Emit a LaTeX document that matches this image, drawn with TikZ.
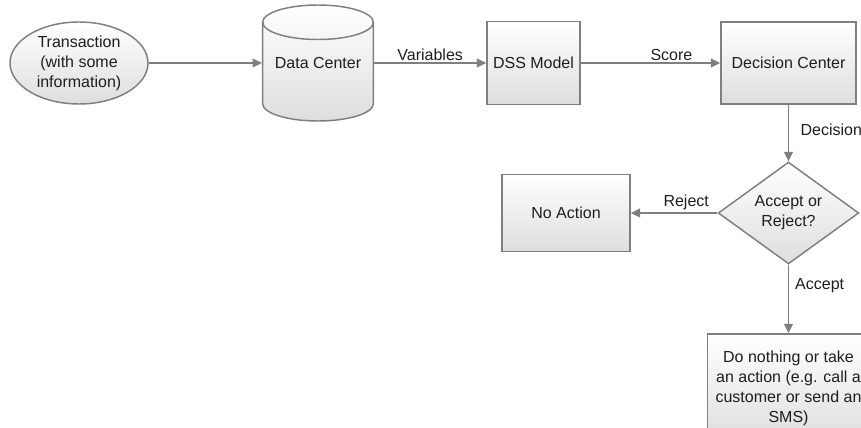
\documentclass[tikz,border=0pt]{standalone}
\usepackage{fontspec}
\setmainfont{Liberation Sans}
\usetikzlibrary{positioning,shapes.geometric,arrows.meta}
\definecolor{linegray}{HTML}{7F7F7F}
\definecolor{textgray}{HTML}{1E1E1E}
\tikzset{
  block/.style={
    draw=linegray, rectangle, line width=1.1pt, top color=white,
    bottom color=black!13, text=textgray, inner sep=0mm, align=center
  },
  oval/.style={
    block, ellipse, minimum width=103.5pt, minimum height=61.5pt
  },
  store/.style={
    block, cylinder, shape border rotate=90, aspect=0.4,
    minimum width=83pt, minimum height=87pt
  },
  choice/.style={
    block, diamond, minimum width=105.5pt, minimum height=62.5pt
  },
  link/.style={
    draw=linegray, line width=1.1pt, -{Triangle[length=7pt,width=6.5pt]}
  },
  tag/.style={
    text=textgray, inner sep=1.5pt
  }
}

\begin{document}
\begin{tikzpicture}[x=0.75pt, y={(0pt,-0.75pt)}, font=\fontsize{12}{15}\selectfont]
  \path[use as bounding box, clip] (0,0) rectangle (861,428);

  \node[oval] (trans) at (79,63) {Transaction\\(with some\\information)};
  \node[store, anchor=shape center] (data) at (318,63) {\raisebox{7pt}[8.6pt][0pt]{Data Center}};
  \node[block, minimum width=69.75pt, minimum height=62.25pt] (dss) at (533.5,63) {DSS Model};
  \node[block, minimum width=101.25pt, minimum height=61.5pt] (deccen) at (788.5,63) {Decision Center};
  \node[choice] (accrej) at (788.5,213) {Accept or\\Reject?};
  \node[block, minimum width=96pt, minimum height=57.75pt] (noact) at (566,213) {No Action};
  \node[block, minimum width=121.5pt, minimum height=81pt] (doact) at (788.5,388) {Do nothing or take\\an action (e.g. call a\\customer or send an\\SMS)};

  \draw[link] (trans) -- (data.west |- trans);
  \draw[link] (data.east |- dss) -- node[tag, above] (lvar) {Variables} (dss);
  \draw[link] (dss) -- node[tag, above, pos=0.65] (lscore) {Score} (deccen);
  \draw[link] (deccen) -- node[tag, right, pos=0.45, xshift=7pt] (ldec) {Decision} (accrej);
  \draw[link] (accrej) -- node[tag, above, pos=0.36] (lrej) {Reject} (noact);
  \draw[link] (accrej) -- node[tag, right, pos=0.3, xshift=3pt] (lacc) {Accept} (doact);
\end{tikzpicture}
\end{document}
